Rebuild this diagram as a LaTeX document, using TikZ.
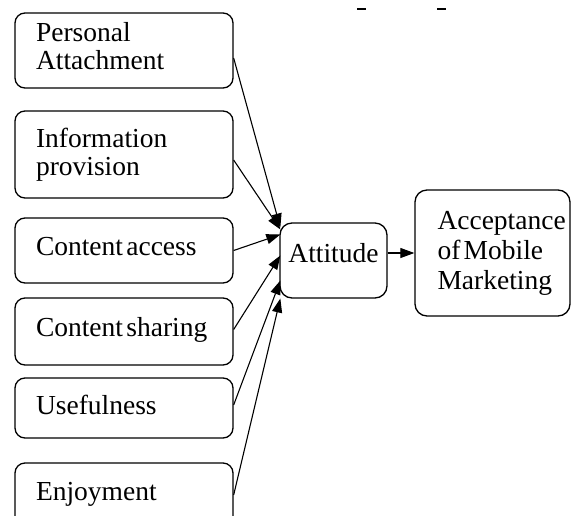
\documentclass[tikz,border=0pt]{standalone}
\usepackage{fontspec}
\setmainfont{Liberation Serif}
\usetikzlibrary{arrows.meta,positioning}

\newcommand{\tightspaces}{\spaceskip=0.12em plus 0.05em\relax}

\tikzset{
  factor/.style={draw, rounded corners=10pt, line width=1.3pt, minimum width=218pt,
    text width=176pt, inner xsep=21pt, inner ysep=0pt, align=left,
    font=\fontsize{27.5}{28}\selectfont, execute at begin node=\tightspaces},
  outcome/.style={draw, rounded corners=12pt, line width=1.3pt, inner sep=0pt,
    align=left, font=\fontsize{27.5}{30}\selectfont, execute at begin node=\tightspaces},
  link/.style={-{Triangle[length=14pt,width=10pt]}, line width=1.1pt},
}

\begin{document}
\begin{tikzpicture}[x=1pt,y=-1pt]
  \clip (0,0) rectangle (571,515);

  % antecedent factors
  \node[factor, minimum height=75pt, text depth=38pt] (pa) at (124,50.5) {Personal\\Attachment};
  \node[factor, minimum height=87pt] (ip) at (124,154.5) {Information\\provision};
  \node[factor, minimum height=65pt, text depth=8pt] (ca) at (124,250.5) {Content access};
  \node[factor, minimum height=67pt, text depth=10pt] (cs) at (124,331.5) {Content sharing};
  \node[factor, minimum height=60pt, text depth=6pt] (us) at (124,408) {Usefulness};
  \node[factor, minimum height=64pt, text depth=8pt] (en) at (124,495) {Enjoyment};

  % attitude and acceptance
  \node[outcome, minimum width=107pt, minimum height=75pt, text depth=16pt] (att) at (333.5,260.5) {Attitude};
  \node[outcome, minimum width=155pt, minimum height=126pt, text width=150pt,
    execute at begin node={\tightspaces\leftskip=20pt}] (acc) at (492.5,253)
    {Acceptance\\of Mobile\\Marketing};

  % arrows into attitude
  \foreach \src/\sy/\dy in {pa/-7.5/33, ip/-5.5/31, ca/0/26, cs/2/5, us/3/-20, en/0/-38}
    \draw[link] ([yshift=\sy pt]\src.east) -- ([xshift=1pt,yshift=\dy pt]att.west);

  \draw[link] (acc.west -| att.east) -- (acc.west);

  % stray marks at the top
  \draw[line width=1.5pt] (357,9) -- (366,9);
  \draw[line width=1.5pt] (437,9) -- (446,9);
\end{tikzpicture}
\end{document}
